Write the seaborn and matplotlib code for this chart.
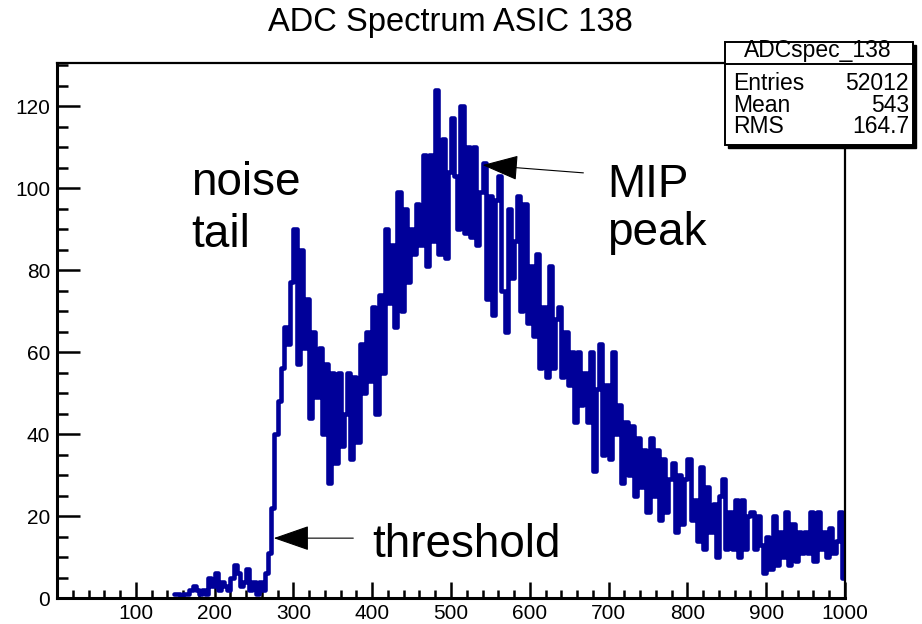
import numpy as np
import pandas as pd
import seaborn as sns
import matplotlib.pyplot as plt
from matplotlib.ticker import MultipleLocator
from matplotlib.patches import Rectangle
from matplotlib.lines import Line2D

# Chart text
title = "ADC Spectrum ASIC 138"
hist_name = "ADCspec_138"
stats_labels = ["Entries", "Mean", "RMS"]
stats_values = ["52012", "543", "164.7"]
x_ticks = [100, 200, 300, 400, 500, 600, 700, 800, 900, 1000]

# ADC counts, 4-channel bins starting at channel 148
first_bin = 148
bin_width = 4
counts = [
    # 148 - 196
    1, 1, 0, 1, 1, 2, 3, 2, 1, 2, 1, 5, 3,
    # 200 - 296
    6, 2, 4, 3, 2, 5, 8, 6, 3, 4, 7, 2, 4, 1, 4, 2, 6, 11, 22, 40, 48, 56, 66, 62, 77,
    # 300 - 396
    90, 57, 85, 61, 73, 44, 65, 49, 61, 40, 57, 28, 55, 33, 55, 37, 45, 55, 34, 54, 38, 62, 50, 65, 53,
    # 400 - 496
    71, 45, 74, 55, 90, 72, 86, 66, 99, 70, 95, 77, 90, 84, 96, 86, 108, 81, 108, 87, 124, 84, 112, 83, 104,
    # 500 - 596
    117, 103, 90, 120, 89, 110, 88, 110, 86, 99, 106, 73, 98, 69, 97, 103, 75, 65, 95, 78, 87, 98, 70, 96, 67,
    # 600 - 696
    81, 64, 84, 56, 71, 54, 81, 56, 68, 71, 54, 65, 52, 60, 43, 60, 47, 55, 43, 60, 31, 51, 62, 35, 52,
    # 700 - 796
    34, 60, 40, 47, 28, 43, 30, 42, 25, 39, 27, 36, 21, 39, 25, 36, 19, 34, 21, 29, 33, 16, 30, 18, 29,
    # 800 - 896
    34, 19, 24, 14, 32, 12, 27, 16, 23, 10, 25, 29, 12, 21, 12, 24, 10, 24, 12, 20, 21, 12, 20, 13, 6,
    # 900 - 996
    15, 7, 20, 8, 16, 10, 21, 8, 18, 9, 16, 11, 16, 11, 21, 9, 21, 12, 16, 10, 17, 11, 14, 21, 5,
]

df = pd.DataFrame({
    "adc": first_bin + bin_width * np.arange(len(counts)) + bin_width / 2,
    "count": counts,
})

W, H = 922, 624
def fx(px):
    return px / W
def fy(py):
    return 1 - py / H

sns.set_style("white")
plt.rcParams["font.family"] = ["Liberation Sans", "DejaVu Sans"]
plt.rcParams["text.color"] = "black"
plt.rcParams["xtick.color"] = "black"
plt.rcParams["ytick.color"] = "black"

fig = plt.figure(figsize=(W / 100, H / 100), dpi=100)
ax = fig.add_axes([fx(57), fy(598), fx(845) - fx(57), fy(63) - fy(598)])

sns.histplot(data=df, x="adc", weights="count", binwidth=bin_width,
             binrange=(first_bin, first_bin + bin_width * len(counts)),
             element="step", fill=False, color="#000099", linewidth=3.3, ax=ax)

ax.set_xlim(0, 1000)
ax.set_ylim(0, 130.5)
ax.set_xlabel("")
ax.set_ylabel("")
ax.set_xticks(x_ticks)
ax.xaxis.set_minor_locator(MultipleLocator(20))
ax.yaxis.set_major_locator(MultipleLocator(20))
ax.yaxis.set_minor_locator(MultipleLocator(5))
ax.tick_params(axis="both", which="both", direction="in", width=1.8,
               bottom=True, left=True, top=False, right=False,
               labelsize=15, colors="black")
ax.tick_params(axis="x", which="major", length=11.5, pad=4)
ax.tick_params(axis="x", which="minor", length=5.8)
ax.tick_params(axis="y", which="major", length=16.5, pad=5)
ax.tick_params(axis="y", which="minor", length=8)
for name, s in ax.spines.items():
    s.set_linewidth(2.2 if name in ("left", "bottom") else 1.6)
    s.set_color("black")

# annotations
txt = dict(fontsize=33, color="black", ha="left", va="baseline")
ax.text(170, 98.3, "noise", **txt)
ax.text(170, 85.6, "tail", **txt)
ax.text(698, 97.8, "MIP", **txt)
ax.text(698, 86, "peak", **txt)
ax.text(400, 10, "threshold", **txt)
arrow = dict(arrowstyle="-|>,head_length=2.3,head_width=0.8", color="black",
             lw=0.8, shrinkA=0, shrinkB=0, mutation_scale=10)
ax.annotate("", xy=(275, 14.6), xytext=(376, 14.6), arrowprops=arrow)
ax.annotate("", xy=(540, 105.6), xytext=(668, 103.7), arrowprops=arrow)

fig.text(0.489, fy(22), title, ha="center", va="center", fontsize=23.5, color="black")

# stats box
x0, x1, y0, y1 = 725, 913, 42, 145
fig.add_artist(Rectangle((fx(x0 + 3), fy(y1 + 3)), fx(x1) - fx(x0), fy(y0) - fy(y1),
                         transform=fig.transFigure, fc="black", ec="black", zorder=5))
fig.add_artist(Rectangle((fx(x0), fy(y1)), fx(x1) - fx(x0), fy(y0) - fy(y1),
                         transform=fig.transFigure, fc="white", ec="black", lw=1.4, zorder=6))
fig.add_artist(Line2D([fx(x0), fx(x1)], [fy(64), fy(64)], transform=fig.transFigure,
                      color="black", lw=1.4, zorder=7))
fig.text(fx(818), fy(57), hist_name, ha="center", va="baseline", fontsize=16.5, zorder=8)
for i, (lab, val) in enumerate(zip(stats_labels, stats_values)):
    yy = fy(83 + 22 * i)
    fig.text(fx(733), yy, lab, ha="left", va="center", fontsize=16.5, zorder=8)
    fig.text(fx(909), yy, val, ha="right", va="center", fontsize=16.5, zorder=8)

fig.savefig("out.png", dpi=100)
